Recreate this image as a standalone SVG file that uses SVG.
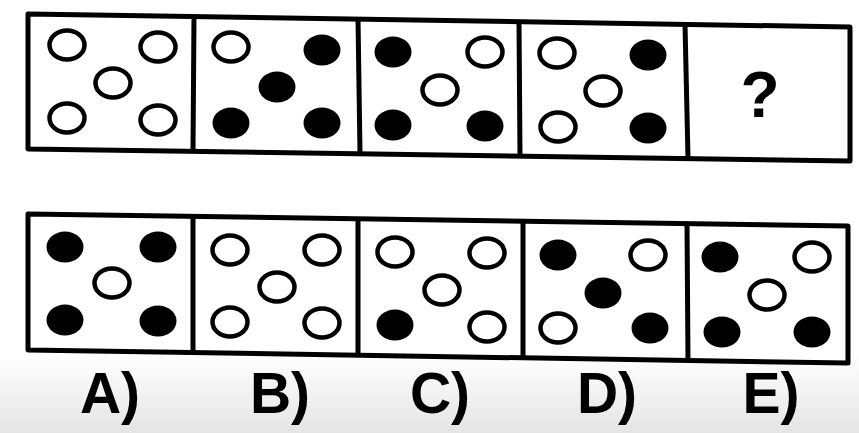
<svg xmlns="http://www.w3.org/2000/svg" width="859" height="433" viewBox="0 0 859 433">
<defs>
<linearGradient id="bg" x1="0" y1="0" x2="0" y2="1">
<stop offset="0" stop-color="#ffffff"/>
<stop offset="0.82" stop-color="#ffffff"/>
<stop offset="1" stop-color="#e4e4e4"/>
</linearGradient>
<style>
.frame{fill:#fff;stroke:#000;stroke-width:5;stroke-linejoin:round}
.div{stroke:#000;stroke-width:5}
.o{fill:#fff;stroke:#000;stroke-width:4.5}
.f{fill:#000}
.lbl{font-family:"Liberation Sans",Arial,sans-serif;font-weight:bold;font-size:57px;fill:#000;text-anchor:middle}
.q{font-family:"Liberation Sans",Arial,sans-serif;font-weight:bold;font-size:64px;fill:#000;text-anchor:middle}
</style>
</defs>
<rect width="859" height="433" fill="url(#bg)"/>
<g id="row1">
<polygon class="frame" points="28,14 850,27 850,161 28,149"/>
<line class="div" x1="194" y1="16" x2="193" y2="151"/>
<line class="div" x1="358" y1="19" x2="360" y2="153"/>
<line class="div" x1="519" y1="22" x2="520" y2="156"/>
<line class="div" x1="685" y1="24" x2="688" y2="158"/>
</g>
<g id="box1">
<ellipse class="o" cx="67" cy="45" rx="17.5" ry="14.5"/>
<ellipse class="o" cx="158" cy="47" rx="17.5" ry="14.5"/>
<ellipse class="o" cx="113" cy="83" rx="17.5" ry="14.5"/>
<ellipse class="o" cx="67" cy="118" rx="17.5" ry="14.5"/>
<ellipse class="o" cx="158" cy="120" rx="17.5" ry="14.5"/>
</g>
<g id="box2">
<ellipse class="o" cx="231" cy="47" rx="17.5" ry="14.5"/>
<ellipse class="f" cx="322" cy="50" rx="18.5" ry="15.5"/>
<ellipse class="f" cx="277" cy="87" rx="18.5" ry="15.5"/>
<ellipse class="f" cx="231" cy="123" rx="18.5" ry="15.5"/>
<ellipse class="f" cx="322" cy="123" rx="18.5" ry="15.5"/>
</g>
<g id="box3">
<ellipse class="f" cx="393" cy="52" rx="18.5" ry="15.5"/>
<ellipse class="o" cx="485" cy="52" rx="17.5" ry="14.5"/>
<ellipse class="o" cx="440" cy="90" rx="17.5" ry="14.5"/>
<ellipse class="f" cx="393" cy="125" rx="18.5" ry="15.5"/>
<ellipse class="f" cx="485" cy="126" rx="18.5" ry="15.5"/>
</g>
<g id="box4">
<ellipse class="o" cx="557" cy="53" rx="17.5" ry="14.5"/>
<ellipse class="f" cx="648" cy="55" rx="18.5" ry="15.5"/>
<ellipse class="o" cx="603" cy="91" rx="17.5" ry="14.5"/>
<ellipse class="o" cx="558" cy="127" rx="17.5" ry="14.5"/>
<ellipse class="f" cx="648" cy="128" rx="18.5" ry="15.5"/>
</g>
<g id="box5">
<text class="q" x="760" y="117">?</text>
</g>
<g id="row2">
<polygon class="frame" points="28,214 848,226 848,363 28,350"/>
<line class="div" x1="193" y1="216" x2="193" y2="352"/>
<line class="div" x1="358" y1="219" x2="358" y2="355"/>
<line class="div" x1="523" y1="221" x2="523" y2="358"/>
<line class="div" x1="687" y1="223" x2="688" y2="361"/>
</g>
<g id="optA">
<ellipse class="f" cx="65" cy="247" rx="18.5" ry="15.5"/>
<ellipse class="f" cx="158" cy="247" rx="18.5" ry="15.5"/>
<ellipse class="o" cx="112" cy="283" rx="17.5" ry="14.5"/>
<ellipse class="f" cx="65" cy="320" rx="18.5" ry="15.5"/>
<ellipse class="f" cx="158" cy="321" rx="18.5" ry="15.5"/>
<text class="lbl" x="110" y="413">A)</text>
</g>
<g id="optB">
<ellipse class="o" cx="230" cy="250" rx="17.5" ry="14.5"/>
<ellipse class="o" cx="322" cy="250" rx="17.5" ry="14.5"/>
<ellipse class="o" cx="277" cy="287" rx="17.5" ry="14.5"/>
<ellipse class="o" cx="230" cy="322" rx="17.5" ry="14.5"/>
<ellipse class="o" cx="322" cy="323" rx="17.5" ry="14.5"/>
<text class="lbl" x="280" y="413">B)</text>
</g>
<g id="optC">
<ellipse class="o" cx="395" cy="252" rx="17.5" ry="14.5"/>
<ellipse class="o" cx="487" cy="253" rx="17.5" ry="14.5"/>
<ellipse class="o" cx="442" cy="290" rx="17.5" ry="14.5"/>
<ellipse class="f" cx="395" cy="325" rx="18.5" ry="15.5"/>
<ellipse class="o" cx="487" cy="327" rx="17.5" ry="14.5"/>
<text class="lbl" x="440" y="413">C)</text>
</g>
<g id="optD">
<ellipse class="f" cx="558" cy="255" rx="18.5" ry="15.5"/>
<ellipse class="o" cx="648" cy="255" rx="17.5" ry="14.5"/>
<ellipse class="f" cx="603" cy="293" rx="18.5" ry="15.5"/>
<ellipse class="o" cx="558" cy="328" rx="17.5" ry="14.5"/>
<ellipse class="f" cx="650" cy="328" rx="18.5" ry="15.5"/>
<text class="lbl" x="607" y="413">D)</text>
</g>
<g id="optE">
<ellipse class="f" cx="720" cy="257" rx="18.5" ry="15.5"/>
<ellipse class="o" cx="812" cy="257" rx="17.5" ry="14.5"/>
<ellipse class="o" cx="767" cy="295" rx="17.5" ry="14.5"/>
<ellipse class="f" cx="722" cy="332" rx="18.5" ry="15.5"/>
<ellipse class="f" cx="812" cy="332" rx="18.5" ry="15.5"/>
<text class="lbl" x="771" y="413">E)</text>
</g>
</svg>
